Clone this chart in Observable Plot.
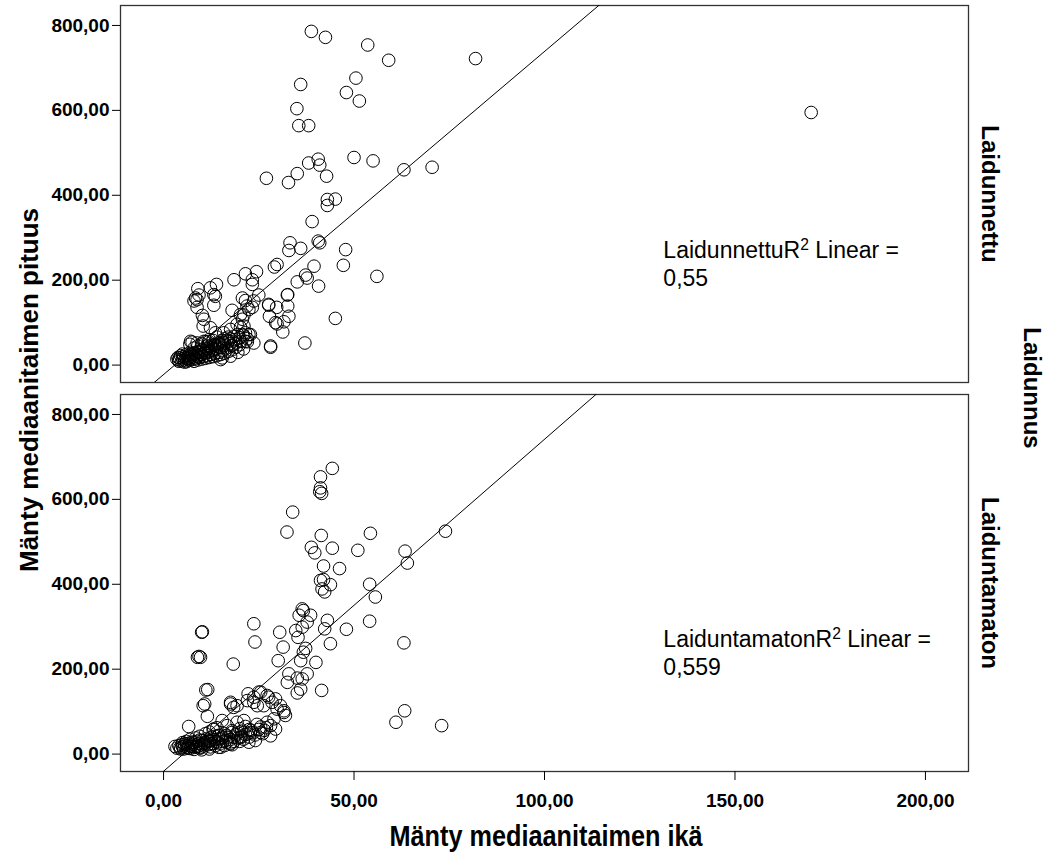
<!DOCTYPE html>
<html>
<head>
<meta charset="utf-8">
<script src="https://cdn.jsdelivr.net/npm/d3@7"></script>
<script src="https://cdn.jsdelivr.net/npm/@observablehq/plot@0.6"></script>
<style>
  html, body { margin: 0; padding: 0; background: white; }
</style>
</head>
<body>
<div id="chart"></div>
<script>
// Facet groups (Laidunnus)
const groups = ["Laidunnettu", "Laiduntamaton"];

// Tick values
const xTicks = [0, 50, 100, 150, 200];
const yTicks = [0, 200, 400, 600, 800];

// Fit lines: intercept and slope per group
const fitIntercepts = [-22.3, -40.5];
const fitSlopes = [7.61, 7.82];
const r2Labels = ["LaidunnettuR\u00B2 Linear =\n0,55", "LaiduntamatonR\u00B2 Linear =\n0,559"];

// Laidunnettu: [ikä, pituus]
const laidunnettuPoints = [
  [38.8,786],[42.5,772],[53.6,754],[59.1,718],[81.9,722],[50.5,676],[36,661],[48,642],[51.4,622],[35,604],
  [35.5,564],[38.1,564],[170,595],
  [40.6,485],[38.1,476],[41,471],[50,489],[55,481],[63.1,460],[70.5,466],[27,440],[35.1,451],[32.8,430],[42.8,445],
  [43,390],[45.1,391],[43,376],[39,338],[33.2,288],[32.9,270],[36,275],[41,288],[40.6,292],[47.8,272],[47.2,235],
  [56,209],[39.5,233],[37.3,212],[37.7,205],[35.1,196],[40.7,186],
  [29.8,237],[29.1,231],[24.4,220],[21.5,215],[23.3,201],[23.3,190],[18.5,201],[13.9,190],[12.3,182],[9,180],
  [8.4,158],[8.8,154],[13.6,162],[13.2,141],[8.8,136],[10.2,117],[10.4,92],[25,165],[21.5,152],[27.6,141],
  [29.7,136],[32.5,165],[32.6,166],[32.6,139],[32.9,115],[27.8,115],[29.8,97],[31.6,102],[31.3,78],[45.1,110],
  [37.1,52],[28.1,42],[18,129],[23.3,136],[22.4,131],[21.1,118],[20.7,108],[19.3,96],[20.2,89],[21.5,76],
  [23.7,52],[22.4,72],[20.2,56],[17.8,45],[15,13],[11.9,55],[7.5,54],[6.9,49],
  [9.3,165],[8,151],[13.2,166],[10.6,108],[20.2,119],[20.7,158],[21.9,139],[23.7,151],[27.6,143],[29.4,100],
  [12.3,88],[13.6,76],[15.8,76],[17.6,84],[21.1,92],[20.7,72],[22.8,72],[21.5,56],[28.1,45],[7.1,56],
  [8.8,52],[10.6,56],[11.5,45],[17.6,21],[15.4,17],
  [3.5,14],[4,12],[4.2,17],[4.8,10],[5,15],[5.2,20],[5.5,12],[5.8,18],[6,8],[6.2,14],
  [6.5,22],[6.8,11],[7,16],[7.2,25],[7.5,13],[7.8,19],[8,9],[8.2,28],[8.5,15],[8.8,22],
  [9,12],[9.2,32],[9.5,18],[9.8,25],[10,14],[10.3,36],[10.5,20],[10.8,28],[11,16],[11.3,40],
  [11.5,22],[11.8,30],[12,18],[12.3,45],[12.5,25],[12.8,35],[13,20],[13.3,48],[13.5,28],[13.8,38],
  [14,22],[14.3,52],[14.5,30],[14.8,42],[15,25],[15.3,58],[15.5,34],[15.8,46],[16,28],[16.5,40],
  [17,32],[17.5,50],[18,36],[18.5,60],[19,42],[19.5,30],[20,48],[21,38],[22,55],[6,25],
  [7,30],[5,26],[8,40],[9,45],[10,50],[11,55],[12,60],[4.5,22],[3.8,18],[16,62],[17,66],[14,66],[13,58],
  [4,9],[5.5,7],[6.5,16],[7.5,21],[8.5,26],[9.5,30],[10.5,34],[11.5,38],[12.5,42],[13.5,46],
  [14.5,50],[15.5,54],[16.5,58],[17.5,62],[18.5,68],[19.5,72],[9,20],[10,24],[11,30],[12,34],
  [13,38],[14,44],[15,48],[16,52],[17,56],[18,46],[19,52],[20,64],[21,70],[22,62]
];

// Laiduntamaton: [ikä, pituus]
const laiduntamatonPoints = [
  [44.3,673],[41.2,653],[41.2,627],[41,618],[41.5,614],[33.9,570],[32.4,523],[41.4,515],[54.3,520],[38.8,487],
  [39.7,474],[44.3,485],[51,480],[63.4,478],[64,450],[74,525],[42,443],[46.2,437],[41.2,409],[42,411],
  [43.8,399],[41.6,389],[42.3,382],[54.1,400],[55.6,370],[54.1,313],[63.1,262],[63.3,102],[61,75],[73,67],
  [36.4,342],[36.7,338],[35.6,327],[38.6,327],[37.7,311],[36.4,299],[34.7,291],[35.3,275],[43,315],[42.3,295],
  [48,294],[43.8,260],[37.3,249],[36.7,240],[36,220],[40,216],[30.5,287],[31.4,252],[30.1,220],[23.7,307],
  [24,264],[18.3,212],[10,287],[10.2,288],[9.3,230],[9.7,228],[8.9,228],[11.6,152],[11.1,151],[10.4,114],
  [10.8,118],[11.5,89],[6.6,65],
  [32.9,189],[32.5,169],[35.1,179],[36.4,177],[37.7,189],[36,153],[35.1,144],[41.5,150],[22.2,142],[25,146],
  [23.7,122],[27.6,134],[29.4,130],[17.6,122],[19.3,114],[30.7,114],[31.6,102],[32,91],[28.1,67],
  [17.6,118],[18.4,110],[22,126],[23.7,134],[25.5,146],[27.2,138],[24.6,114],[26.3,114],[28.5,122],[29.8,106],
  [31.6,98],[27.2,75],[29,83],[29.4,59],[28.1,43],[25.5,51],[15.4,79],[16.7,67],[18,51],[19.3,75],
  [21.1,79],[20.2,39],[22.8,51],[22.4,28],[24.1,32],[13.2,59],[14.5,43],[16.3,32],[17.6,24],[12.3,32],
  [10.6,24],[9.7,16],[14.5,16],
  [3,18],[3.5,14],[4,20],[4.3,15],[4.8,22],[5,17],[5.3,12],[5.6,19],[6,24],[6.2,15],
  [6.5,20],[6.8,26],[7,13],[7.3,18],[7.6,23],[8,28],[8.2,16],[8.5,21],[8.8,30],[9,18],
  [9.3,25],[9.6,14],[10,22],[10.3,32],[10.6,19],[11,27],[11.3,36],[11.6,22],[12,30],[12.3,17],
  [12.6,40],[13,25],[13.3,34],[13.6,20],[14,28],[14.4,44],[14.8,24],[15,36],[15.5,30],[16,48],
  [16.5,28],[17,40],[17.5,34],[18,55],[18.5,30],[19,45],[19.5,38],[20,60],[20.5,42],[21,35],
  [21.5,65],[22,48],[22.5,40],[23,56],[24,45],[24.5,70],[25,58],[26,48],[27,62],[7,35],
  [6,30],[5,27],[8.5,38],[9.5,42],[11,48],[12,52],[13,58],[14,62],[10,10],[12,12],[15,16],[8,11],
  [4.5,12],[5.5,24],[6.5,14],[7.5,28],[8.5,18],[9.5,33],[10.5,26],[11.5,30],[12.5,24],[13.5,42],
  [14.5,36],[15.5,40],[16.5,44],[17.5,26],[18.5,40],[19.5,50],[20.5,54],[21.5,46],[22.5,58],[23.5,50],
  [25.5,64],[26.5,56],[16,20],[18,22],[20,30]
];

const xDomain = [-11.3, 211.3];
const yDomain = [-41, 847];

const points = [
  ...laidunnettuPoints.map(([x, y]) => ({x, y, g: groups[0]})),
  ...laiduntamatonPoints.map(([x, y]) => ({x, y, g: groups[1]}))
];
const fitLines = groups.flatMap((g, i) =>
  xDomain.map(x => ({x, y: fitIntercepts[i] + fitSlopes[i] * x, g}))
);
const r2Data = groups.map((g, i) => ({g, t: r2Labels[i]}));

const fmt = d => d.toFixed(2).replace(".", ",");
const font = "'Liberation Sans', Arial, sans-serif";

const plot = Plot.plot({
  width: 1060,
  height: 854,
  marginLeft: 120,
  marginRight: 92,
  marginTop: 4,
  marginBottom: 83,
  style: {fontFamily: font, background: "white", color: "black"},
  x: {domain: xDomain},
  y: {domain: yDomain},
  fy: {domain: groups, paddingInner: 0.031, paddingOuter: 0, axis: null, label: null},
  marks: [
    Plot.frame({stroke: "#333", strokeWidth: 1.3}),
    Plot.axisY({ticks: yTicks, tickFormat: fmt, tickSize: 8, tickPadding: 3, fontSize: 19, fontWeight: "bold", label: null}),
    Plot.axisX({ticks: xTicks, tickFormat: fmt, tickSize: 9, tickPadding: 13, fontSize: 19, fontWeight: "bold", label: null}),
    Plot.line(fitLines, {x: "x", y: "y", fy: "g", z: "g", stroke: "black", strokeWidth: 1, clip: true}),
    Plot.dot(points, {x: "x", y: "y", fy: "g", r: 6.3, stroke: "black", fill: "none", strokeWidth: 1}),
    Plot.text(r2Data, {fy: "g", x: () => 131.2, y: () => 187, text: "t", textAnchor: "start", lineAnchor: "bottom", lineHeight: 1.2, fontSize: 23, fill: "black", className: "r2label"}),
    Plot.text(groups, {fy: d => d, text: d => d, frameAnchor: "right", textAnchor: "middle", lineAnchor: "middle", rotate: 90, dx: 21, fontSize: 24, fontWeight: "bold", fill: "black"})
  ]
});

const svg = d3.select(plot);

// Render "R²" with a true superscript 2
svg.selectAll("tspan").each(function() {
  const s = this.textContent;
  const k = s.indexOf("\u00B2");
  if (k < 0) return;
  const sel = d3.select(this);
  sel.text("");
  sel.append("tspan").text(s.slice(0, k));
  sel.append("tspan").attr("baseline-shift", "super").attr("font-size", "0.68em").text("2");
  sel.append("tspan").text(s.slice(k + 1));
});

svg.append("text")
  .attr("transform", "translate(38,390) rotate(-90)")
  .attr("text-anchor", "middle")
  .attr("font-family", font)
  .attr("font-weight", "bold")
  .attr("font-size", 26)
  .attr("fill", "black")
  .text("Mänty mediaanitaimen pituus");
svg.append("text")
  .attr("transform", "translate(1024,388) rotate(90)")
  .attr("text-anchor", "middle")
  .attr("font-family", font)
  .attr("font-weight", "bold")
  .attr("font-size", 24)
  .attr("fill", "black")
  .text("Laidunnus");
svg.append("text")
  .attr("x", 546)
  .attr("y", 846)
  .attr("text-anchor", "middle")
  .attr("font-family", font)
  .attr("font-weight", "bold")
  .attr("font-size", 29)
  .attr("textLength", 313)
  .attr("lengthAdjust", "spacingAndGlyphs")
  .attr("fill", "black")
  .text("Mänty mediaanitaimen ikä");

document.getElementById("chart").appendChild(plot);
</script>
</body>
</html>
